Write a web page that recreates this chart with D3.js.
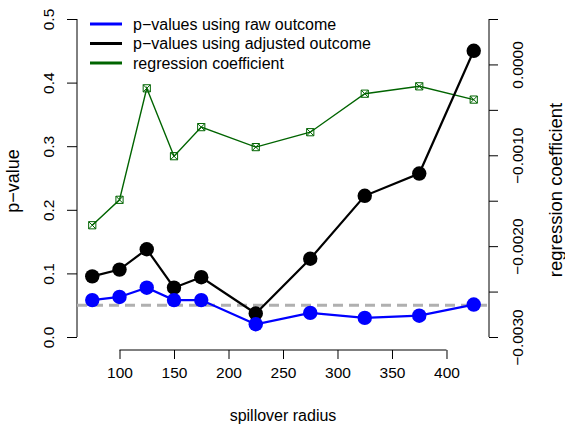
<!DOCTYPE html>
<html>
<head>
<meta charset="utf-8">
<script src="https://cdn.jsdelivr.net/npm/d3@7"></script>
<style>
  body { margin: 0; background: #fff; }
  text { font-family: "Liberation Sans", Arial, sans-serif; fill: #000; }
</style>
</head>
<body>
<div class="chart-holder"></div>
<script>
let width = 565
let height = 425

// spillover radius values
let radius = [75, 100, 125, 150, 175, 225, 275, 325, 375, 425]
let pRaw = [0.058, 0.063, 0.0775, 0.058, 0.058, 0.020, 0.038, 0.030, 0.0335, 0.051]
let pAdj = [0.0954, 0.106, 0.138, 0.0775, 0.094, 0.037, 0.123, 0.222, 0.257, 0.450]
let coef = [-0.00177, -0.00149, -0.000263, -0.00101, -0.00069, -0.00091, -0.000746, -0.000322, -0.000241, -0.000387]

let xTicks = [100, 150, 200, 250, 300, 350, 400]
let yTicks = [0, 0.1, 0.2, 0.3, 0.4, 0.5]
let y2Ticks = [-0.003, -0.0025, -0.002, -0.0015, -0.001, -0.0005, 0, 0.0005]
let y2Labels = [-0.003, -0.002, -0.001, 0]
let threshold = 0.05

let legendItems = [
  { label: 'p\u2212values using raw outcome', color: '#0000ff' },
  { label: 'p\u2212values using adjusted outcome', color: '#000000' },
  { label: 'regression coefficient', color: '#006400' }
]

let plot = { left: 77, right: 489, top: 19, bottom: 337, axisY: 350 }

let pad = (radius[radius.length - 1] - radius[0]) * 0.04
let x = d3.scaleLinear()
  .domain([radius[0] - pad, radius[radius.length - 1] + pad])
  .range([plot.left, plot.right])
let y = d3.scaleLinear().domain([0, 0.5]).range([plot.bottom, plot.top])
let y2 = d3.scaleLinear().domain([-0.003, 0.0005]).range([plot.bottom, plot.top])

let fmtMinus = s => s.replace('-', '\u2212')

let svg = d3.select('.chart-holder')
  .append('svg')
    .attr('width', width)
    .attr('height', height)

// x axis
let xAxis = svg.append('g')
  .attr('transform', 'translate(0,' + plot.axisY + ')')
  .call(d3.axisBottom(x).tickValues(xTicks).tickSize(9).tickPadding(8).tickFormat(d3.format('d')))
xAxis.select('.domain').attr('d', 'M' + x(xTicks[0]) + ',0H' + x(xTicks[xTicks.length - 1]))

// left axis
let yAxis = svg.append('g')
  .attr('transform', 'translate(' + plot.left + ',0)')
  .call(d3.axisLeft(y).tickValues(yTicks).tickSize(10).tickFormat(d3.format('.1f')))
yAxis.select('.domain').attr('d', 'M0,' + y(0) + 'V' + y(0.5))
yAxis.selectAll('.tick text')
  .attr('transform', 'translate(-28,0) rotate(-90)')
  .attr('x', 0).attr('dy', '0.35em')
  .style('text-anchor', 'middle')

// right axis
let y2Axis = svg.append('g')
  .attr('transform', 'translate(' + plot.right + ',0)')
  .call(d3.axisRight(y2).tickValues(y2Ticks).tickSize(9)
    .tickFormat(d => y2Labels.some(v => Math.abs(v - d) < 1e-9) ? fmtMinus(d3.format('.4f')(d)) : ''))
y2Axis.select('.domain').attr('d', 'M0,' + y2(-0.003) + 'V' + y2(0.0005))
y2Axis.selectAll('.tick text')
  .attr('transform', 'translate(29,0) rotate(-90)')
  .attr('x', 0).attr('dy', '0.35em')
  .style('text-anchor', 'middle')

svg.selectAll('.tick text').style('font-size', '15.5px').style('font-family', '"Liberation Sans", Arial, sans-serif')
svg.selectAll('.domain, .tick line').attr('stroke', '#000')

// axis titles
svg.append('text')
  .attr('x', (plot.left + plot.right) / 2).attr('y', 416)
  .attr('dy', '0.3em').attr('text-anchor', 'middle')
  .style('font-size', '16px')
  .text('spillover radius')
svg.append('text')
  .attr('transform', 'translate(13,' + 181 + ') rotate(-90)')
  .attr('dy', '0.35em').attr('text-anchor', 'middle')
  .style('font-size', '18px')
  .text('p\u2212value')
svg.append('text')
  .attr('transform', 'translate(556,' + 190 + ') rotate(-90)')
  .attr('dy', '0.35em').attr('text-anchor', 'middle')
  .style('font-size', '18.5px')
  .text('regression coefficient')

// threshold
svg.append('line')
  .attr('x1', plot.left).attr('x2', plot.right)
  .attr('y1', y(threshold)).attr('y2', y(threshold))
  .attr('stroke', '#b0b0b0').attr('stroke-width', 3)
  .attr('stroke-dasharray', '10,6')

let line = d3.line()

// regression coefficient
let coefPts = radius.map((r, i) => [x(r), y2(coef[i])])
svg.append('path')
  .attr('d', line(coefPts))
  .attr('fill', 'none').attr('stroke', '#006400').attr('stroke-width', 1.4)
let sq = 3.6
svg.append('g').selectAll('path')
  .data(coefPts)
  .enter()
  .append('path')
    .attr('d', d => 'M' + (d[0] - sq) + ',' + (d[1] - sq) + 'h' + 2 * sq + 'v' + 2 * sq + 'h' + (-2 * sq) + 'Z' +
      'M' + (d[0] - sq) + ',' + (d[1] - sq) + 'l' + 2 * sq + ',' + 2 * sq +
      'M' + (d[0] + sq) + ',' + (d[1] - sq) + 'l' + (-2 * sq) + ',' + 2 * sq)
    .attr('fill', 'none').attr('stroke', '#006400').attr('stroke-width', 1)

function drawSeries(values, color){
  let pts = radius.map((r, i) => [x(r), y(values[i])])
  svg.append('path')
    .attr('d', line(pts))
    .attr('fill', 'none').attr('stroke', color).attr('stroke-width', 2.2)
  svg.append('g').selectAll('circle')
    .data(pts)
    .enter()
    .append('circle')
      .attr('cx', d => d[0]).attr('cy', d => d[1]).attr('r', 7.2)
      .attr('fill', color)
}

drawSeries(pAdj, '#000000')
drawSeries(pRaw, '#0000ff')

// legend
let legend = svg.append('g').selectAll('g')
  .data(legendItems)
  .enter()
  .append('g')
    .attr('transform', (d, i) => 'translate(90,' + (24 + i * 19.5) + ')')
legend.append('line')
  .attr('x1', 0).attr('x2', 32)
  .attr('stroke', d => d.color).attr('stroke-width', 3)
legend.append('text')
  .attr('x', 43).attr('dy', '0.35em')
  .style('font-size', '16px')
  .text(d => d.label)
</script>
</body>
</html>
